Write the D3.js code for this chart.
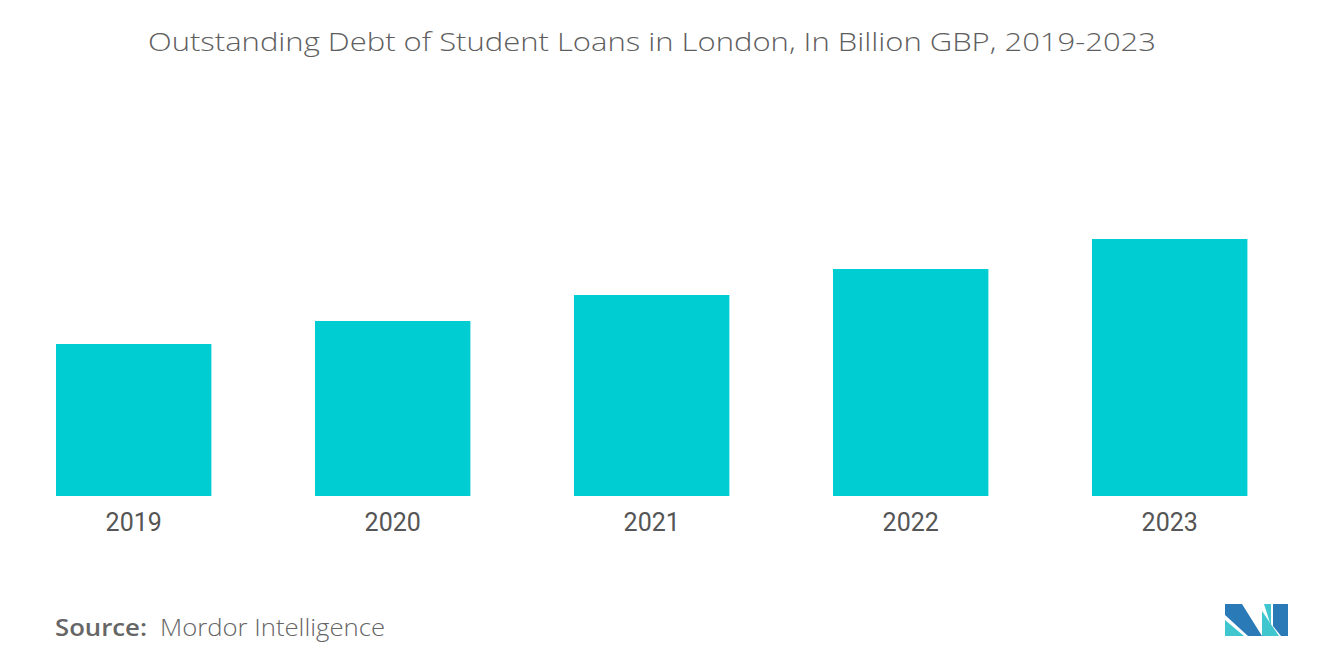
<!DOCTYPE html>
<html><head><meta charset="utf-8">
<script src="https://cdn.jsdelivr.net/npm/d3@7"></script>
<style>html,body{margin:0;padding:0;background:#fff;overflow:hidden}</style>
</head><body>
<svg id="chart" width="1320" height="665"></svg>
<script>
const years = ["2019","2020","2021","2022","2023"];
const debtValues = [15.2, 17.5, 20.1, 22.7, 25.7];
const titleText = "Outstanding Debt of Student Loans in London, In Billion GBP, 2019-2023";

const svg = d3.select("#chart");
const baseY = 496;
const x = d3.scaleBand().domain(years).range([4.2, 1299.2]).paddingInner(0.4).paddingOuter(0.2);
const y = d3.scaleLinear().domain([0, 35]).range([baseY, baseY - 350]);

svg.append("text").attr("x", 652).attr("y", 51).attr("text-anchor","middle")
  .attr("font-family","'Open Sans', sans-serif").attr("font-weight",300)
  .attr("font-size",26.5).attr("fill","#5e5e5e")
  .attr("textLength",1008).attr("lengthAdjust","spacingAndGlyphs").text(titleText);

svg.append("g").selectAll("rect").data(years).join("rect")
  .attr("x", d => x(d)).attr("width", x.bandwidth())
  .attr("y", (d,i) => y(debtValues[i])).attr("height", (d,i) => baseY - y(debtValues[i]))
  .attr("fill","#00CDD1");

const axis = d3.axisBottom(x).tickSize(0).tickPadding(0);
const g = svg.append("g").attr("transform",`translate(0,${baseY})`).call(axis);
g.select(".domain").remove();
g.selectAll("text").attr("font-family","Roboto, sans-serif").attr("font-size",25)
  .attr("fill","#555").attr("dy",null).attr("y",35);

const src = svg.append("text").attr("y",636)
  .attr("font-family","'Open Sans', sans-serif").attr("font-size",23).attr("fill","#666");
src.append("tspan").attr("x",55).attr("font-weight",600).attr("textLength",92).attr("lengthAdjust","spacingAndGlyphs").text("Source:");
src.append("tspan").attr("x",160).attr("font-weight",300).attr("textLength",225).attr("lengthAdjust","spacingAndGlyphs").text("Mordor Intelligence");

// logo
const logo = svg.append("g");
const polys = [
  {pts:[[1225,604],[1242,604],[1262,636],[1248,636],[1225,615]], c:"#2a7ab8"},
  {pts:[[1225,620],[1244,636],[1225,636]], c:"#3fc6cf"},
  {pts:[[1264,604],[1271,604],[1271,626]], c:"#3fc6cf"},
  {pts:[[1273,604],[1288,604],[1288,636],[1281,636],[1273,626]], c:"#2a7ab8"},
  {pts:[[1262,611],[1279,636],[1262,636]], c:"#3fc6cf"}
];
logo.selectAll("polygon").data(polys).join("polygon")
  .attr("points", d => d.pts.map(p => p.join(",")).join(" ")).attr("fill", d => d.c);
</script>
</body></html>
